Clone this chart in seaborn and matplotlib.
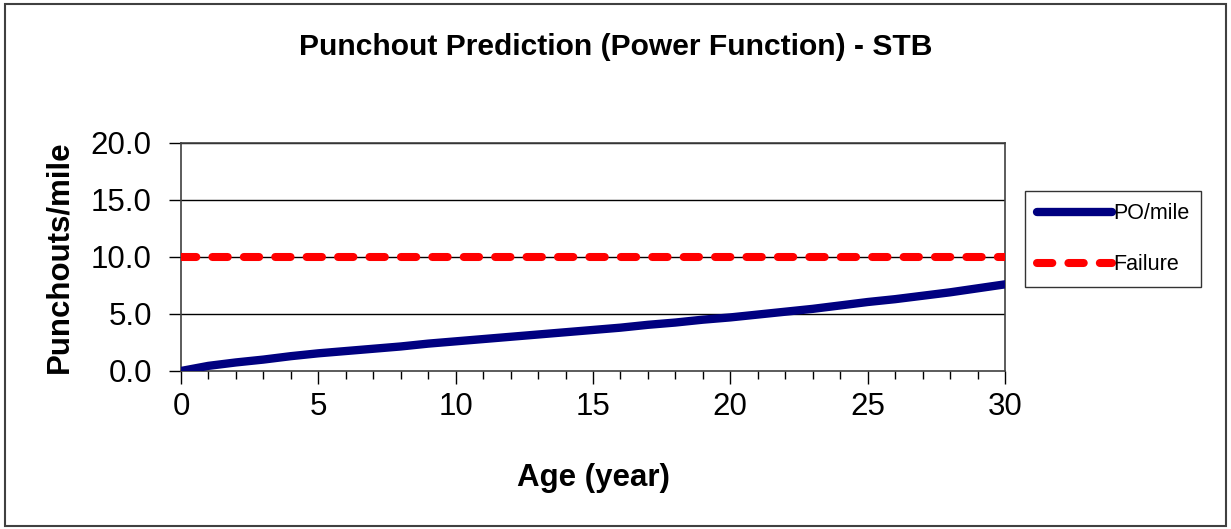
import matplotlib
matplotlib.use("Agg")
import matplotlib.pyplot as plt
import seaborn as sns
import pandas as pd
from matplotlib.ticker import MultipleLocator
from matplotlib.patches import Rectangle

age = list(range(0, 31))
po_mile = [0.0, 0.45, 0.75, 1.0, 1.3, 1.55, 1.75, 1.95, 2.15, 2.4, 2.6,
           2.8, 3.0, 3.2, 3.4, 3.6, 3.8, 4.05, 4.25, 4.5, 4.7,
           4.95, 5.2, 5.45, 5.75, 6.05, 6.3, 6.6, 6.9, 7.25, 7.6]
failure = [10.0] * len(age)
y_ticks = [0.0, 5.0, 10.0, 15.0, 20.0]
x_ticks = [0, 5, 10, 15, 20, 25, 30]

sns.set_style("white")
plt.rcParams['font.family'] = ['Liberation Sans', 'DejaVu Sans']
plt.rcParams['text.color'] = 'black'
plt.rcParams['axes.labelcolor'] = 'black'
plt.rcParams['xtick.color'] = 'black'
plt.rcParams['ytick.color'] = 'black'

df = pd.DataFrame({"Age": age, "PO/mile": po_mile, "Failure": failure})

fig = plt.figure(figsize=(12.31, 5.29), dpi=100)
ax = fig.add_axes([0.147, 0.2987, 0.6694, 0.431])

for y in y_ticks[1:]:
    ax.axhline(y, color='black', lw=1.0, zorder=1)

sns.lineplot(data=df, x="Age", y="PO/mile", ax=ax, color='#000080', lw=6,
             label='PO/mile', zorder=3, solid_capstyle='round')
sns.lineplot(data=df, x="Age", y="Failure", ax=ax, color='#FF0000', lw=5.8,
             label='Failure', zorder=3)
red = ax.lines[-1]
red.set_linestyle((0, (1.9, 2.0)))
red.set_dash_capstyle('round')

ax.set_xlim(0, 30)
ax.set_ylim(0, 20)
ax.set_xticks(x_ticks)
ax.set_yticks(y_ticks)
ax.set_yticklabels([f"{v:.1f}" for v in y_ticks])
ax.xaxis.set_minor_locator(MultipleLocator(1))
ax.tick_params(axis='both', which='major', labelsize=22.5, direction='out',
               length=9, width=1, color='black', bottom=True, left=True)
ax.tick_params(axis='x', which='major', pad=6)
ax.tick_params(axis='y', which='major', pad=12)
ax.tick_params(axis='x', which='minor', direction='out', length=6, width=1,
               color='black', bottom=True)
for s in ax.spines.values():
    s.set_color('#404040')
    s.set_linewidth(1.2)

ax.set_xlabel("Age (year)", fontsize=22.5, fontweight='bold', labelpad=30)
ax.set_ylabel("Punchouts/mile", fontsize=22.5, fontweight='bold', labelpad=12)

fig.text(0.5, 0.911, "Punchout Prediction (Power Function) - STB",
         ha='center', va='center', fontsize=21.6, fontweight='bold')

leg = ax.legend(loc='upper left', bbox_to_anchor=(1.024, 0.788), fontsize=15.5,
                frameon=True, fancybox=False, edgecolor='black',
                handlelength=3.5, handletextpad=0.05, borderpad=0.55,
                labelspacing=1.4, borderaxespad=0)
leg.get_frame().set_linewidth(1.0)

fig.patches.append(Rectangle((0.004, 0.006), 0.992, 0.986, transform=fig.transFigure,
                             fill=False, edgecolor='#404040', lw=1.5))

fig.savefig("out.png", dpi=100)
